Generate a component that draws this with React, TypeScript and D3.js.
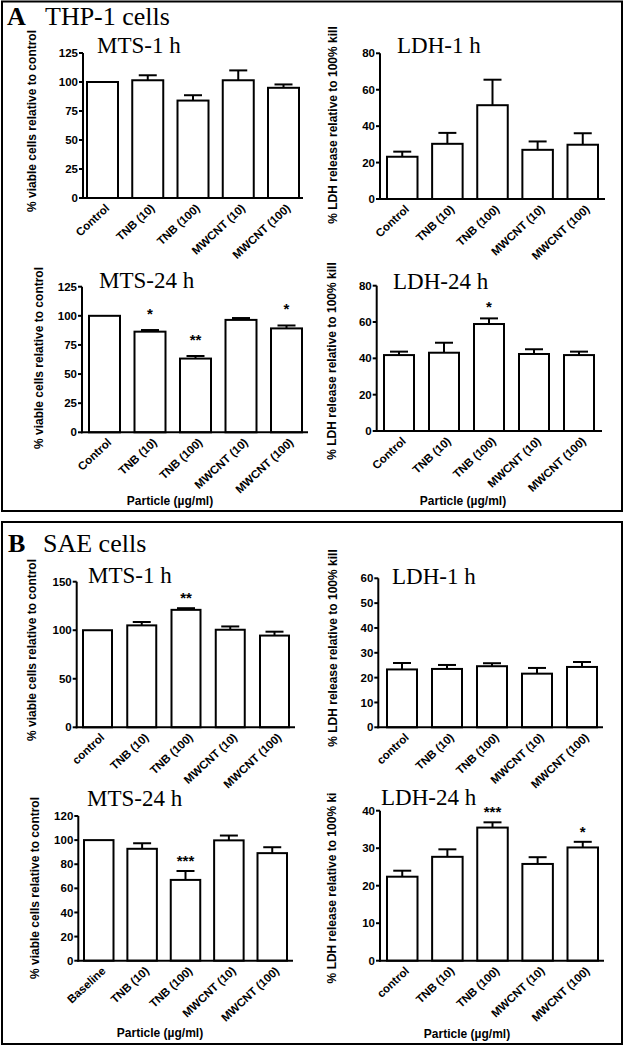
import React from "react";
import * as d3 from "d3";

// ---------- data ----------
const catsControl = ["Control", "TNB (10)", "TNB (100)", "MWCNT (10)", "MWCNT (100)"];
const catsControlLower = ["control", "TNB (10)", "TNB (100)", "MWCNT (10)", "MWCNT (100)"];
const catsBaseline = ["Baseline", "TNB (10)", "TNB (100)", "MWCNT (10)", "MWCNT (100)"];

const aMts1Mean = [100, 101.5, 84, 101.5, 95];
const aMts1Sem = [0, 4.3, 4.6, 8.5, 2.9];
const aMts1Stars = ["", "", "", "", ""];

const aLdh1Mean = [23.2, 30.3, 51.5, 27, 29.8];
const aLdh1Sem = [2.8, 6, 14, 4.6, 6.3];
const aLdh1Stars = ["", "", "", "", ""];

const aMts24Mean = [100, 86.4, 63.3, 96.5, 89.2];
const aMts24Sem = [0, 1.4, 2.2, 1.6, 2.5];
const aMts24Stars = ["", "*", "**", "", "*"];

const aLdh24Mean = [41.8, 43.1, 58.9, 42.4, 41.8];
const aLdh24Sem = [1.9, 5.5, 3.1, 2.6, 1.9];
const aLdh24Stars = ["", "", "*", "", ""];

const bMts1Mean = [100, 105, 121, 100.5, 94.5];
const bMts1Sem = [0, 3.5, 1.7, 3.4, 4];
const bMts1Stars = ["", "", "**", "", ""];

const bLdh1Mean = [23.3, 23.5, 24.6, 21.6, 24.3];
const bLdh1Sem = [2.6, 1.6, 1.2, 2.3, 2];
const bLdh1Stars = ["", "", "", "", ""];

const bMts24Mean = [100, 92.8, 67, 99.8, 89.2];
const bMts24Sem = [0, 4.6, 7.4, 4, 4.9];
const bMts24Stars = ["", "", "***", "", ""];

const bLdh24Mean = [22.4, 27.7, 35.5, 25.8, 30.2];
const bLdh24Sem = [1.6, 2, 1.4, 1.8, 1.5];
const bLdh24Stars = ["", "", "***", "", "*"];

const ticks125 = [0, 25, 50, 75, 100, 125];
const ticks80 = [0, 20, 40, 60, 80];
const ticks150 = [0, 50, 100, 150];
const ticks60 = [0, 10, 20, 30, 40, 50, 60];
const ticks120 = [0, 20, 40, 60, 80, 100, 120];
const ticks40 = [0, 10, 20, 30, 40];

const yLabelMts = "% viable cells relative to control";
const yLabelLdh = "% LDH release relative to 100% kill";
const yLabelLdhCut = "% LDH release relative to 100% ki";
const xTitleText = "Particle (µg/ml)";

// ---------- layout ----------
const SANS = "'Liberation Sans', Arial, Helvetica, sans-serif";
const SERIF = "'Liberation Serif', 'Times New Roman', Times, serif";

type PanelCfg = {
  title: string; cats: string[]; mean: number[]; sem: number[]; stars: string[];
  ticks: number[]; ylabel: string; xtitle?: string;
  axisX: number; y0: number; yTop: number; xEnd: number;
  barL: number; barR: number; bw: number;
  titleX: number; titleY: number;
  ylx: number; yly: number;
  xtx?: number; xty?: number;
  starGap: number;
};

const panels: PanelCfg[] = [
  { title: "MTS-1 h", cats: catsControl, mean: aMts1Mean, sem: aMts1Sem, stars: aMts1Stars, ticks: ticks125, ylabel: yLabelMts,
    axisX: 83, y0: 198, yTop: 53, xEnd: 303, barL: 87, barR: 299, bw: 31, titleX: 97, titleY: 53, ylx: 32, yly: 121, starGap: 5 },
  { title: "LDH-1 h", cats: catsControl, mean: aLdh1Mean, sem: aLdh1Sem, stars: aLdh1Stars, ticks: ticks80, ylabel: yLabelLdh,
    axisX: 380, y0: 199, yTop: 53.3, xEnd: 605, barL: 387, barR: 598, bw: 30.5, titleX: 397, titleY: 53, ylx: 333, yly: 125, starGap: 5 },
  { title: "MTS-24 h", cats: catsControl, mean: aMts24Mean, sem: aMts24Sem, stars: aMts24Stars, ticks: ticks125, ylabel: yLabelMts, xtitle: xTitleText,
    axisX: 82, y0: 432.3, yTop: 286.7, xEnd: 308, barL: 89, barR: 302, bw: 31, titleX: 99, titleY: 288, ylx: 39, yly: 358, xtx: 170, xty: 505, starGap: 11 },
  { title: "LDH-24 h", cats: catsControl, mean: aLdh24Mean, sem: aLdh24Sem, stars: aLdh24Stars, ticks: ticks80, ylabel: yLabelLdh, xtitle: xTitleText,
    axisX: 376.7, y0: 431, yTop: 285.7, xEnd: 602, barL: 384, barR: 594, bw: 30, titleX: 393, titleY: 289, ylx: 332, yly: 361, xtx: 463, xty: 505, starGap: 6 },
  { title: "MTS-1 h", cats: catsControlLower, mean: bMts1Mean, sem: bMts1Sem, stars: bMts1Stars, ticks: ticks150, ylabel: yLabelMts,
    axisX: 76.7, y0: 727.3, yTop: 581.7, xEnd: 295, barL: 83, barR: 289, bw: 29, titleX: 88, titleY: 583, ylx: 32, yly: 650, starGap: 5 },
  { title: "LDH-1 h", cats: catsControlLower, mean: bLdh1Mean, sem: bLdh1Sem, stars: bLdh1Stars, ticks: ticks60, ylabel: yLabelLdh,
    axisX: 378.3, y0: 727.3, yTop: 578.3, xEnd: 603, barL: 387, barR: 597, bw: 30, titleX: 392, titleY: 584, ylx: 333, yly: 648, starGap: 5 },
  { title: "MTS-24 h", cats: catsBaseline, mean: bMts24Mean, sem: bMts24Sem, stars: bMts24Stars, ticks: ticks120, ylabel: yLabelMts, xtitle: xTitleText,
    axisX: 78.3, y0: 960.7, yTop: 816, xEnd: 293, barL: 84, barR: 287, bw: 29.5, titleX: 87, titleY: 806, ylx: 35, yly: 888, xtx: 160, xty: 1037, starGap: 5 },
  { title: "LDH-24 h", cats: catsControlLower, mean: bLdh24Mean, sem: bLdh24Sem, stars: bLdh24Stars, ticks: ticks40, ylabel: yLabelLdhCut, xtitle: xTitleText,
    axisX: 380, y0: 960.7, yTop: 810.7, xEnd: 604, barL: 387, barR: 598, bw: 30.5, titleX: 381, titleY: 805, ylx: 332, yly: 888, xtx: 467, xty: 1038, starGap: 5 },
];

function Panel({ c }: { c: PanelCfg }) {
  const n = c.cats.length;
  const step = (c.barR - c.barL - c.bw) / (n - 1);
  const x = d3.scaleBand<string>().domain(c.cats).range([c.barL, c.barR])
    .paddingInner(1 - c.bw / step).paddingOuter(0);
  const ymax = c.ticks[c.ticks.length - 1];
  const y = d3.scaleLinear().domain([0, ymax]).range([c.y0, c.yTop]);
  const capW = 18;
  return (
    <g>
      {c.cats.map((cat, i) => {
        const bx = x(cat) as number;
        const cx = bx + x.bandwidth() / 2;
        const top = y(c.mean[i]);
        const errTop = y(c.mean[i] + c.sem[i]);
        return (
          <g key={cat}>
            {c.sem[i] > 0 && (
              <g stroke="#000" strokeWidth={2}>
                <line x1={cx} x2={cx} y1={top} y2={errTop} />
                <line x1={cx - capW / 2} x2={cx + capW / 2} y1={errTop} y2={errTop} />
              </g>
            )}
            <rect x={bx} y={top} width={x.bandwidth()} height={c.y0 - top}
              fill="#fff" stroke="#000" strokeWidth={2} />
            {c.stars[i] && (
              <text x={cx} y={errTop - c.starGap} textAnchor="middle" fontFamily={SANS}
                fontWeight="bold" fontSize={15}>{c.stars[i]}</text>
            )}
            <text transform={`translate(${cx + 2},${c.y0 + 5}) rotate(-43)`} dy="0.72em"
              textAnchor="end" fontFamily={SANS} fontWeight="bold" fontSize={11.5}>{cat}</text>
          </g>
        );
      })}
      <line x1={c.axisX} x2={c.axisX} y1={c.y0 + 1} y2={y(ymax)} stroke="#000" strokeWidth={2} />
      <line x1={c.axisX - 1} x2={c.xEnd} y1={c.y0} y2={c.y0} stroke="#000" strokeWidth={2} />
      {c.ticks.map((t) => (
        <g key={t}>
          <line x1={c.axisX - 4} x2={c.axisX} y1={y(t)} y2={y(t)} stroke="#000" strokeWidth={2} />
          <text x={c.axisX - 5} y={y(t)} dy="0.36em" textAnchor="end" fontFamily={SANS}
            fontWeight="bold" fontSize={11.5}>{t}</text>
        </g>
      ))}
      <text x={c.titleX} y={c.titleY} fontFamily={SERIF} fontSize={23}>{c.title}</text>
      <text transform={`translate(${c.ylx},${c.yly}) rotate(-90)`} dy="0.36em" textAnchor="middle"
        fontFamily={SANS} fontWeight="bold" fontSize={12}>{c.ylabel}</text>
      {c.xtitle && (
        <text x={c.xtx} y={c.xty} textAnchor="middle" fontFamily={SANS} fontWeight="bold" fontSize={12}>{c.xtitle}</text>
      )}
    </g>
  );
}

export default function App() {
  return (
    <svg width={624} height={1049} style={{ position: "absolute", left: 0, top: 0, background: "#fff" }}>
      <rect x={0} y={0} width={624} height={1049} fill="#fff" />
      <rect x={2} y={1.5} width={620} height={509.5} fill="none" stroke="#000" strokeWidth={2} />
      <rect x={2} y={522} width={620} height={522} fill="none" stroke="#000" strokeWidth={2} />
      <text x={7} y={25} fontFamily={SERIF} fontWeight="bold" fontSize={26}>A</text>
      <text x={45} y={25} fontFamily={SERIF} fontSize={26}>THP-1 cells</text>
      <text x={8} y={552} fontFamily={SERIF} fontWeight="bold" fontSize={26}>B</text>
      <text x={43} y={552} fontFamily={SERIF} fontSize={26}>SAE cells</text>
      {panels.map((p, i) => <Panel key={i} c={p} />)}
    </svg>
  );
}
